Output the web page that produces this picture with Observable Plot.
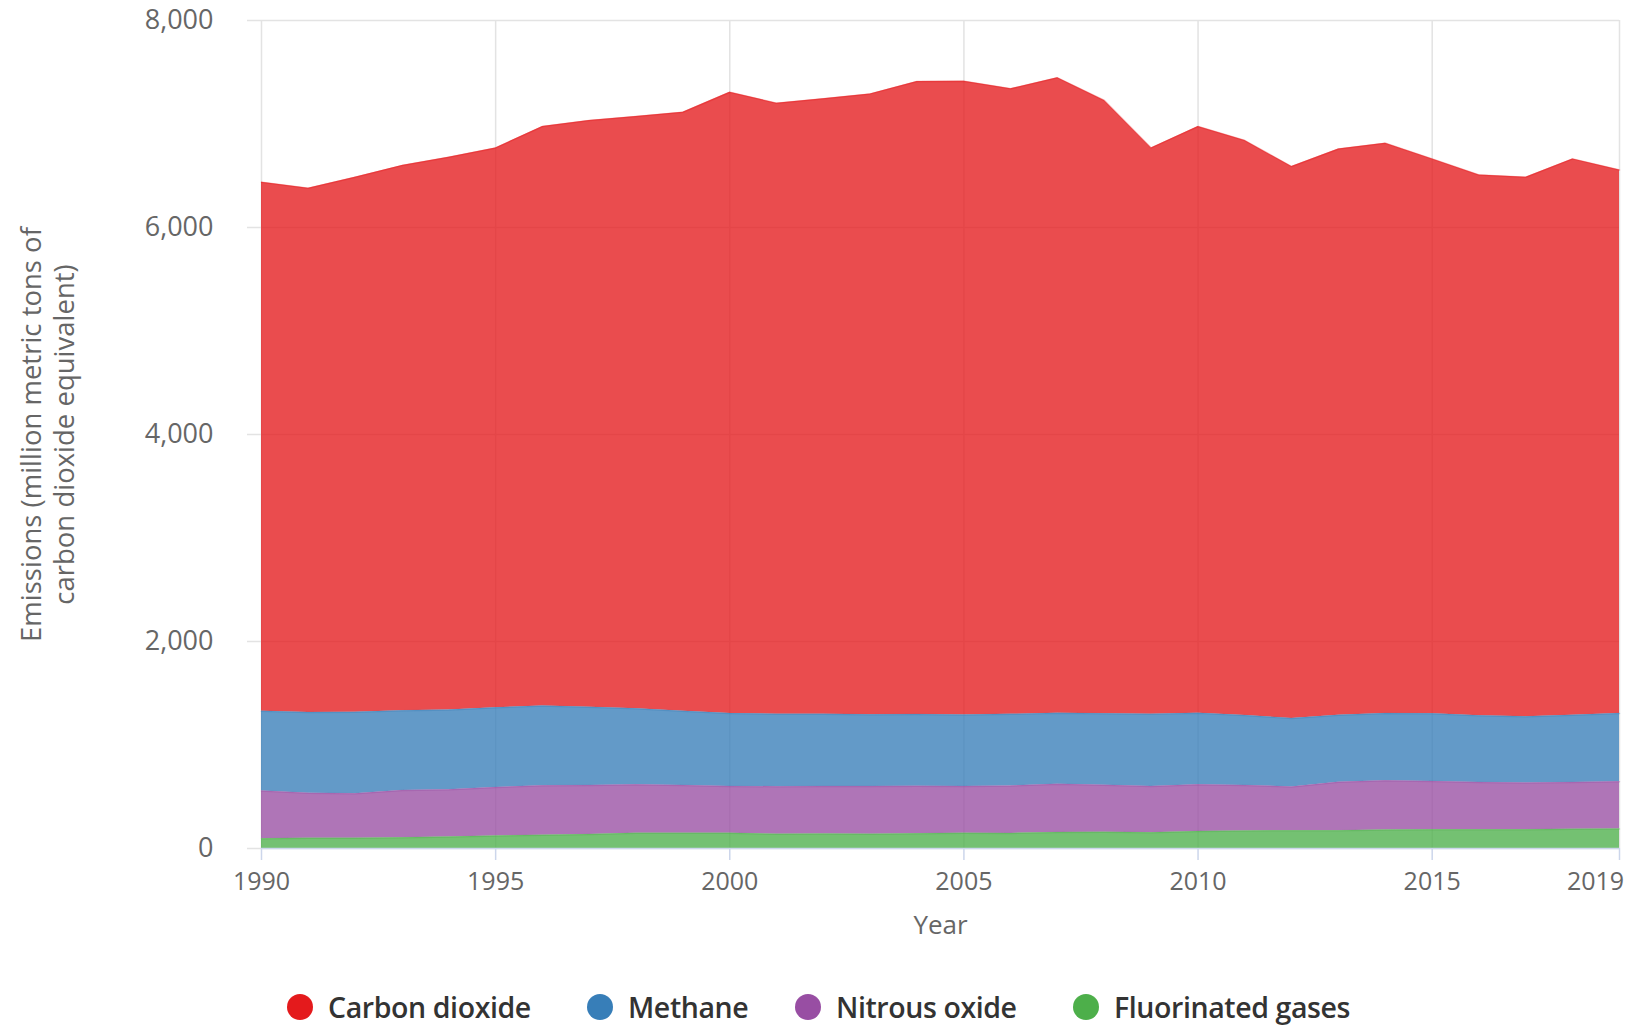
<!DOCTYPE html>
<html>
<head>
<meta charset="utf-8">
<script src="https://cdn.jsdelivr.net/npm/d3@7"></script>
<script src="https://cdn.jsdelivr.net/npm/@observablehq/plot@0.6"></script>
<style>
  html, body { margin: 0; padding: 0; background: #fff; }
  body { width: 1642px; height: 1025px; overflow: hidden; font-family: "Open Sans", sans-serif; }
  #chart { position: absolute; left: 0; top: 0; }
  #legend { position: absolute; left: 0; top: 988px; width: 1642px; height: 37px; }
  .item { position: absolute; top: 0; height: 37px; display: flex; align-items: center; }
  .dot { width: 26px; height: 26px; border-radius: 50%; margin-right: 15px; }
  .lab { font-size: 28.5px; font-weight: 600; color: #333; letter-spacing: -0.4px; }
</style>
</head>
<body>
<div id="chart"></div>
<div id="legend"></div>
<script>
const years = [1990,1991,1992,1993,1994,1995,1996,1997,1998,1999,2000,2001,2002,2003,2004,2005,2006,2007,2008,2009,2010,2011,2012,2013,2014,2015,2016,2017,2018,2019];
const carbonDioxide = [5112,5066,5169,5268,5340,5409,5597,5668,5722,5789,6002,5903,5945,5999,6115,6122,6044,6139,5924,5471,5668,5555,5333,5471,5510,5362,5226,5214,5375,5252];
const methane = [770,779,787,770,771,770,772,756,735,716,705,701,698,694,693,691,692,687,693,698,692,677,661,648,650,654,644,640,650,659];
const nitrousOxide = [460,437,430,457,458,470,478,474,467,462,452,459,460,460,459,453,458,465,453,448,450,438,423,468,476,467,458,450,453,457];
const fluorinatedGases = [95,98,100,103,110,120,128,135,148,147,148,138,140,138,143,147,146,155,157,152,165,170,172,172,178,180,180,182,185,188];

const gases = ["Carbon dioxide","Methane","Nitrous oxide","Fluorinated gases"];
const gasColors = ["#e41a1c","#377eb8","#984ea3","#4daf4a"];
const stackOrder = ["Fluorinated gases","Nitrous oxide","Methane","Carbon dioxide"];
const yTicks = [0,2000,4000,6000,8000];
const xTicks = [1990,1995,2000,2005,2010,2015,2019];
const xLabelTicks = [1990,1995,2000,2005,2010,2015];
const xLastTick = [2019];

const series = {"Carbon dioxide": carbonDioxide, "Methane": methane, "Nitrous oxide": nitrousOxide, "Fluorinated gases": fluorinatedGases};
const data = gases.flatMap(g => years.map((yr, i) => ({year: yr, gas: g, value: series[g][i]})));

const chart = Plot.plot({
  width: 1642,
  height: 950,
  marginTop: 20,
  marginBottom: 102,
  marginLeft: 261,
  marginRight: 23,
  style: {fontFamily: "Open Sans, sans-serif", fontSize: "24px", color: "#666", background: "#fff"},
  x: {domain: [1990, 2019]},
  y: {domain: [0, 8000]},
  color: {domain: gases, range: gasColors},
  marks: [
    Plot.gridX(xTicks, {stroke: "#e3e3e3", strokeOpacity: 1, strokeWidth: 1.5}),
    Plot.axisY(yTicks, {tickSize: 14, tickPadding: 34, stroke: "#e3e3e3", strokeWidth: 1.5, fill: "#666", tickFormat: d3.format(","), label: null, fontSize: 27}),
    Plot.ruleY(yTicks, {stroke: "#e3e3e3", strokeWidth: 1.5}),
    Plot.areaY(data, {x: "year", y: "value", z: "gas", fill: "gas", fillOpacity: 0.78, order: stackOrder}),
    Plot.lineY(data, Plot.stackY2({x: "year", y: "value", z: "gas", stroke: "gas", strokeOpacity: 0.35, strokeWidth: 1.5, order: stackOrder})),
    Plot.ruleY([0], {stroke: "#ccd6eb", strokeWidth: 1.5}),
    Plot.axisX(xTicks, {tickSize: 12, stroke: "#ccd6eb", strokeWidth: 1.5, tickFormat: () => "", label: null}),
    Plot.text(xLabelTicks, {x: d => d, frameAnchor: "bottom", dy: 33, fill: "#666", fontSize: 25, lineAnchor: "middle", text: d => String(d)}),
    Plot.text(xLastTick, {x: d => d, frameAnchor: "bottom", dy: 33, dx: -24, fill: "#666", fontSize: 25, lineAnchor: "middle", text: d => String(d)}),
    Plot.text(["Year"], {frameAnchor: "bottom", dy: 77, fill: "#666", fontSize: 26, lineAnchor: "middle"}),
    Plot.text(["Emissions (million metric tons of\ncarbon dioxide equivalent)"], {frameAnchor: "left", dx: -215, rotate: -90, fill: "#666", fontSize: 27.5, textAnchor: "middle", lineAnchor: "middle", lineHeight: 1.2})
  ]
});
document.getElementById("chart").append(chart);

const legendX = [287, 587, 795, 1073];
const legend = document.getElementById("legend");
gases.forEach((g, i) => {
  const item = document.createElement("div");
  item.className = "item";
  item.style.left = legendX[i] + "px";
  const dot = document.createElement("div");
  dot.className = "dot";
  dot.style.background = gasColors[i];
  const lab = document.createElement("span");
  lab.className = "lab";
  lab.textContent = g;
  item.append(dot, lab);
  legend.append(item);
});
</script>
</body>
</html>
